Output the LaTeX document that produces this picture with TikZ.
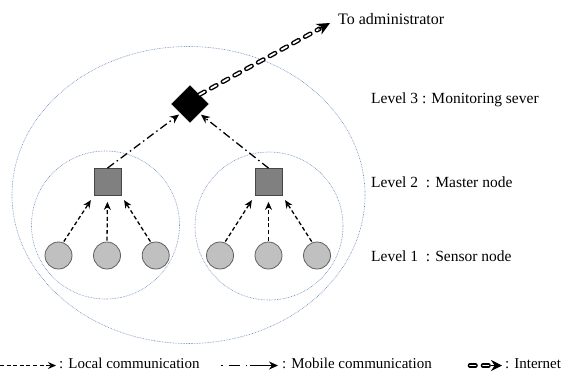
\documentclass[tikz,border=0pt]{standalone}
\usepackage{fontspec}
\setmainfont{Liberation Serif}
\usetikzlibrary{shapes.geometric,arrows.meta,calc}
\definecolor{regionblue}{RGB}{110,140,190}
\definecolor{sensorfill}{RGB}{192,192,192}
\definecolor{sensordraw}{RGB}{95,95,95}
\definecolor{masterfill}{RGB}{128,128,128}
\definecolor{masterdraw}{RGB}{70,70,70}
\tikzset{
  region/.style={draw=regionblue, line width=0.6pt, dash pattern=on 0.7pt off 0.9pt, inner sep=0pt, fill=none},
  sensor/.style={circle, draw=sensordraw, line width=0.8pt, fill=sensorfill, minimum size=27pt, inner sep=0pt},
  master/.style={rectangle, draw=masterdraw, line width=0.8pt, fill=masterfill, minimum size=27pt, inner sep=0pt},
  server/.style={diamond, fill=black, draw=black, minimum width=37pt, minimum height=37pt, inner sep=0pt},
  localarrow/.style={line width=1.3pt, dash pattern=on 4pt off 2.6pt, -{Stealth[length=8pt,width=7pt]}},
  mobilearrow/.style={line width=1.3pt, dash pattern=on 8pt off 3.5pt on 1.5pt off 3.5pt, -{Stealth[length=9pt,width=8pt]}},
  netouter/.style={line width=4.6pt, line cap=round, dash pattern=on 6pt off 7.4pt, black},
  netinner/.style={line width=1.8pt, line cap=round, dash pattern=on 6pt off 7.4pt, white},
  nettip/.style={line width=1pt, -{Stealth[length=13pt,width=12pt]}},
  label/.style={font=\fontsize{15.5}{18}\selectfont, anchor=base west, inner sep=0pt},
  legendlabel/.style={font=\fontsize{15}{18}\selectfont, anchor=base west, inner sep=0pt},
}
\begin{document}
\begin{tikzpicture}[x=1pt,y=-1pt]
\useasboundingbox (0,0) rectangle (569,376);
% regions
\node[region, ellipse, minimum width=353pt, minimum height=297pt] (big) at (188.5,195) {};
\node[region, circle, minimum size=148pt] (regl) at (105.5,225) {};
\node[region, circle, minimum size=148pt] (regr) at (269,226) {};
% server
\node[server] (dia) at (190,104) {};
% masters
\node[master] (m1) at (107.5,182) {};
\node[master] (m2) at (268.5,182) {};
% sensors
\node[sensor] (c1) at (58.5,255.5) {};
\node[sensor] (c2) at (107,255.5) {};
\node[sensor] (c3) at (155.7,255.5) {};
\node[sensor] (c4) at (220,255.5) {};
\node[sensor] (c5) at (268.5,255.5) {};
\node[sensor] (c6) at (317,255.5) {};
% local links
\draw[localarrow, shorten <=1pt, shorten >=5pt] (c1.70) -- (m1.south west);
\draw[localarrow, shorten <=1pt, shorten >=6pt] (c2.north) -- (m1.south);
\draw[localarrow, shorten <=1pt, shorten >=5pt] (c3.110) -- (m1.south east);
\draw[localarrow, shorten <=1pt, shorten >=5pt] (c4.70) -- (m2.south west);
\draw[localarrow, shorten <=1pt, shorten >=6pt] (c5.north) -- (m2.south);
\draw[localarrow, shorten <=1pt, shorten >=5pt] (c6.110) -- (m2.south east);
% mobile links
\draw[mobilearrow, shorten >=2pt] (m1.north) -- (dia.south west);
\draw[mobilearrow, shorten >=2pt] (m2.north) -- (dia.south east);
% internet
\coordinate (adm) at (330,23);
\draw[netouter, shorten >=12pt] (dia.north east) -- (adm);
\draw[netinner, shorten >=12pt] (dia.north east) -- (adm);
\draw[nettip] ($(adm)!13pt!(dia.north east)$) -- (adm);
\node[label, font=\fontsize{16}{18}\selectfont] (admt) at (338,24) {To administrator};
% level labels
\node[label] (lv3) at (371,103) {Level 3 : Monitoring sever};
\node[label] (lv2) at (371,187) {Level 2\ \ : Master node};
\node[label] (lv1) at (371,261) {Level 1\ \ : Sensor node};
% legend
\coordinate (la) at (0,365.5);
\coordinate (lb) at (56,365.5);
\draw[localarrow] (la) -- (lb);
\node[legendlabel] (lt) at (59,368.5) {: Local communication};
\coordinate (ma) at (221,365.5);
\coordinate (mb) at (278,365.5);
\draw[mobilearrow, dash pattern=on 1.5pt off 6pt on 11pt off 6pt on 1.5pt off 3pt on 40pt] (ma) -- (mb);
\node[legendlabel] (mt) at (282,368.5) {: Mobile communication};
\coordinate (ia) at (470,365.5);
\coordinate (ib) at (502,365.5);
\draw[black, line width=4.6pt, line cap=round, dash pattern=on 5.5pt off 7.5pt] (ia) -- (488.5,365.5);
\draw[white, line width=1.8pt, line cap=round, dash pattern=on 5.5pt off 7.5pt] (ia) -- (488.5,365.5);
\draw[line width=1pt, -{Stealth[length=11pt,width=11pt]}] ($(ib)!11pt!(ia)$) -- (ib);
\node[legendlabel] (it) at (505,368.5) {: Internet};
\end{tikzpicture}
\end{document}
